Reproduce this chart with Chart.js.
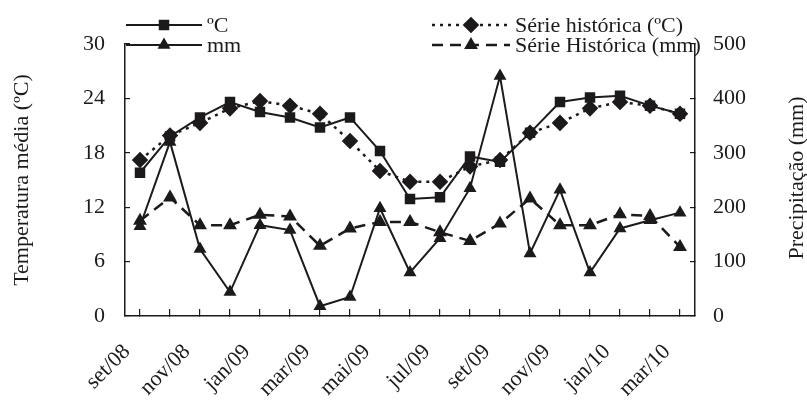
<!DOCTYPE html>
<html>
<head>
<meta charset="utf-8">
<script src="https://cdn.jsdelivr.net/npm/chart.js@4.4.1/dist/chart.umd.min.js"></script>
<style>
  body { margin: 0; background: #fff; }
  #wrap { width: 807px; height: 403px; position: relative; }
</style>
</head>
<body>
<div id="wrap"><canvas id="chart"></canvas></div>
<script>
// months, set/08 .. mar/10
const months = ["set/08", "out/08", "nov/08", "dez/08", "jan/09", "fev/09", "mar/09", "abr/09",
  "mai/09", "jun/09", "jul/09", "ago/09", "set/09", "out/09", "nov/09", "dez/09",
  "jan/10", "fev/10", "mar/10"];

const tempMedia = [15.8, 19.8, 21.9, 23.6, 22.5, 21.9, 20.8, 21.9, 18.2, 12.9, 13.1, 17.6, 17.0, 20.2, 23.6, 24.1, 24.3, 23.2, 22.3];
const tempHist = [17.2, 19.9, 21.3, 22.9, 23.7, 23.2, 22.3, 19.3, 16.0, 14.8, 14.8, 16.5, 17.2, 20.2, 21.3, 22.9, 23.6, 23.2, 22.3];
const precip = [165, 320, 123, 44, 167, 158, 18, 35, 198, 80, 143, 235, 441, 115, 232, 80, 161, 176, 190];
const precipHist = [175, 218, 167, 167, 186, 183, 129, 161, 173, 173, 154, 138, 170, 216, 167, 167, 187, 184, 127];

const tempTicks = [0, 6, 12, 18, 24, 30];
const precipTicks = [0, 100, 200, 300, 400, 500];

const ink = "#1c1a1b";
const serif = "'Liberation Serif', 'Times New Roman', serif";

// legend + axis titles drawn by hand (2x2 legend, right title reads upward)
const extras = {
  id: "extras",
  afterDraw(chart) {
    const ctx = chart.ctx;
    const ds = chart.data.datasets;
    const items = [
      { d: ds[0], x1: 126, x2: 202, y: 25 },
      { d: ds[2], x1: 126, x2: 202, y: 45 },
      { d: ds[1], x1: 432, x2: 510, y: 25 },
      { d: ds[3], x1: 432, x2: 510, y: 45 },
    ];
    ctx.save();
    items.forEach(it => {
      ctx.strokeStyle = ink;
      ctx.lineWidth = it.d.borderWidth;
      ctx.setLineDash(it.d.borderDash || []);
      ctx.beginPath();
      ctx.moveTo(it.x1, it.y);
      ctx.lineTo(it.x2, it.y);
      ctx.stroke();
      ctx.setLineDash([]);
      ctx.fillStyle = ink;
      Chart.helpers.drawPoint(ctx, {
        pointStyle: it.d.pointStyle, radius: it.d.pointRadius, rotation: 0, borderWidth: 1
      }, (it.x1 + it.x2) / 2, it.y);
      ctx.font = "22px " + serif;
      ctx.textAlign = "left";
      ctx.textBaseline = "middle";
      ctx.fillText(it.d.label, it.x2 + 5, it.y + 1);
    });

    ctx.font = "22px " + serif;
    ctx.textAlign = "center";
    ctx.textBaseline = "middle";
    ctx.translate(22, 180);
    ctx.rotate(-Math.PI / 2);
    ctx.fillText("Temperatura média (ºC)", 0, 0);
    ctx.setTransform(1, 0, 0, 1, 0, 0);
    ctx.translate(797, 178);
    ctx.rotate(-Math.PI / 2);
    ctx.fillText("Precipitação (mm)", 0, 0);
    ctx.restore();
  }
};

const ctx = document.getElementById("chart");
new Chart(ctx, {
  type: "line",
  data: {
    labels: months,
    datasets: [
      {
        label: "ºC",
        data: tempMedia,
        yAxisID: "y",
        borderColor: ink,
        backgroundColor: ink,
        borderWidth: 2,
        pointStyle: "rect",
        pointRadius: 6,
        tension: 0,
      },
      {
        label: "Série histórica (ºC)",
        data: tempHist,
        yAxisID: "y",
        borderColor: ink,
        backgroundColor: ink,
        borderWidth: 2.5,
        borderDash: [3, 5],
        pointStyle: "rectRot",
        pointRadius: 6.5,
        tension: 0,
      },
      {
        label: "mm",
        data: precip,
        yAxisID: "y1",
        borderColor: ink,
        backgroundColor: ink,
        borderWidth: 2,
        pointStyle: "triangle",
        pointRadius: 5.5,
        tension: 0,
      },
      {
        label: "Série Histórica (mm)",
        data: precipHist,
        yAxisID: "y1",
        borderColor: ink,
        backgroundColor: ink,
        borderWidth: 2.5,
        borderDash: [11, 7],
        pointStyle: "triangle",
        pointRadius: 5.5,
        tension: 0,
      },
    ],
  },
  options: {
    responsive: true,
    maintainAspectRatio: false,
    animation: false,
    layout: { padding: { top: 44, left: 0, right: 0, bottom: 0 } },
    plugins: {
      legend: { display: false },
      tooltip: { enabled: false },
    },
    scales: {
      x: {
        offset: true,
        grid: { drawOnChartArea: false, tickLength: -7, color: ink, lineWidth: 1.2 },
        border: { display: true, color: ink, width: 1.5 },
        ticks: {
          autoSkip: false,
          minRotation: 45,
          maxRotation: 45,
          padding: 30,
          labelOffset: -13,
          color: ink,
          font: { family: serif, size: 22 },
          callback: (v, i) => (i % 2 === 0 ? months[i] : ""),
        },
        afterFit: (s) => { s.height = 87; },
      },
      y: {
        position: "left",
        min: 0,
        max: 30,
        afterBuildTicks: (s) => { s.ticks = tempTicks.map(v => ({ value: v })); },
        grid: { drawOnChartArea: false, tickLength: -5, color: ink, lineWidth: 1.2 },
        border: { display: true, color: ink, width: 1.5 },
        ticks: { padding: 25, color: ink, font: { family: serif, size: 22 } },
        afterFit: (s) => { s.width = 125; },
      },
      y1: {
        position: "right",
        min: 0,
        max: 500,
        afterBuildTicks: (s) => { s.ticks = precipTicks.map(v => ({ value: v })); },
        grid: { drawOnChartArea: false, tickLength: -5, color: ink, lineWidth: 1.2 },
        border: { display: true, color: ink, width: 1.5 },
        ticks: { padding: 23, color: ink, font: { family: serif, size: 22 } },
        afterFit: (s) => { s.width = 112; },
      },
    },
  },
  plugins: [extras],
});
</script>
</body>
</html>
